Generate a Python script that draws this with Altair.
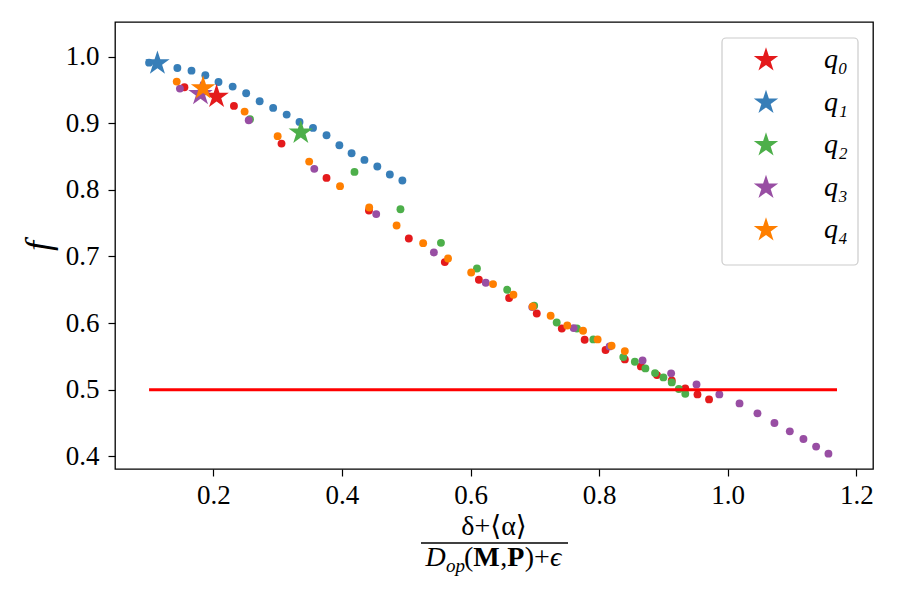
import altair as alt
import pandas as pd

FONT = "Liberation Serif, DejaVu Serif, serif"

# Series names and Set1 colours
series = ["q₀", "q₁", "q₂", "q₃", "q₄"]
colors = ["#e41a1c", "#377eb8", "#4daf4a", "#984ea3", "#ff7f00"]

# Scatter points per series
q0_x = [0.155, 0.232, 0.306, 0.376, 0.442, 0.504, 0.560, 0.613, 0.660, 0.703,
        0.742, 0.7775, 0.810, 0.840, 0.865, 0.890, 0.913, 0.934, 0.953, 0.971]
q0_y = [0.954, 0.926, 0.8695, 0.818, 0.769, 0.727, 0.6916, 0.665, 0.6376, 0.6145,
        0.592, 0.575, 0.5596, 0.5455, 0.535, 0.522, 0.514, 0.502, 0.493, 0.4855]

q1_x = [0.100, 0.144, 0.166, 0.1875, 0.208, 0.230, 0.251, 0.272, 0.293, 0.314,
        0.334, 0.355, 0.376, 0.396, 0.415, 0.435, 0.455, 0.4745, 0.494]
q1_y = [0.991, 0.983, 0.979, 0.972, 0.962, 0.955, 0.945, 0.933, 0.923, 0.913,
        0.902, 0.893, 0.882, 0.867, 0.855, 0.845, 0.835, 0.823, 0.814]

q2_x = [0.257, 0.4195, 0.491, 0.554, 0.610, 0.657, 0.699, 0.734, 0.7655, 0.791,
        0.8376, 0.8556, 0.872, 0.887, 0.900, 0.913, 0.924, 0.934]
q2_y = [0.906, 0.827, 0.771, 0.7205, 0.682, 0.650, 0.626, 0.601, 0.592, 0.5755,
        0.549, 0.542, 0.532, 0.525, 0.5185, 0.511, 0.501, 0.494]

q3_x = [0.148, 0.255, 0.357, 0.4533, 0.543, 0.6237, 0.696, 0.7604, 0.8163, 0.8676,
        0.912, 0.9515, 0.987, 1.0184, 1.0463, 1.0727, 1.0966, 1.1178, 1.1375, 1.1567]
q3_y = [0.952, 0.9046, 0.8316, 0.7636, 0.706, 0.6606, 0.624, 0.5925, 0.565, 0.544,
        0.5246, 0.508, 0.493, 0.4795, 0.4645, 0.450, 0.4375, 0.426, 0.4146, 0.404]

q4_x = [0.143, 0.2486, 0.300, 0.349, 0.397, 0.4424, 0.485, 0.5263, 0.565, 0.601,
        0.635, 0.6667, 0.6967, 0.7246, 0.7505, 0.775, 0.7977, 0.8194, 0.840]
q4_y = [0.9625, 0.9175, 0.8806, 0.8425, 0.8056, 0.7735, 0.7466, 0.720, 0.697, 0.676,
        0.6586, 0.6426, 0.625, 0.611, 0.5965, 0.5886, 0.5755, 0.566, 0.558]

# Highlighted point of each series (star markers)
star_x = [0.205, 0.113, 0.336, 0.180, 0.184]
star_y = [0.940, 0.990, 0.886, 0.944, 0.9526]

# Threshold line
threshold = 0.5
threshold_span = [0.1, 1.17]

x_ticks = [0.2, 0.4, 0.6, 0.8, 1.0, 1.2]
y_ticks = [0.4, 0.5, 0.6, 0.7, 0.8, 0.9, 1.0]

# Five-pointed star path in the [-1, 1] box
STAR = ("M0,-1L0.2245,-0.309L0.9511,-0.309L0.3633,0.118L0.5878,0.809L0,0.382"
        "L-0.5878,0.809L-0.3633,0.118L-0.9511,-0.309L-0.2245,-0.309Z")

rows = []
for name, xs, ys in zip(series, [q0_x, q1_x, q2_x, q3_x, q4_x], [q0_y, q1_y, q2_y, q3_y, q4_y]):
    for xv, yv in zip(xs, ys):
        rows.append({"series": name, "x": xv, "y": yv, "k": len(rows)})
dots = pd.DataFrame(rows)
stars = pd.DataFrame({"series": series, "x": star_x, "y": star_y, "k": list(range(5))})
line_df = pd.DataFrame({"x": [threshold_span[0]], "x2": [threshold_span[1]], "y": [threshold]})

W, H = 758, 447
OX, OY = 115, 22  # plot origin on the page

xscale = alt.Scale(domain=[0.047, 1.226], nice=False, zero=False)
yscale = alt.Scale(domain=[0.381, 1.052], nice=False, zero=False)
cscale = alt.Scale(domain=series, range=colors)

x_enc = alt.X("x:Q", scale=xscale,
              axis=alt.Axis(values=x_ticks, format=".1f", title=None, labelPadding=6))
y_enc = alt.Y("y:Q", scale=yscale,
              axis=alt.Axis(values=y_ticks, format=".1f", title="f", labelPadding=9,
                            titleX=-77, titleY=H / 2, titleAngle=270,
                            titleBaseline="middle", titleAlign="center",
                            titleFontStyle="italic", titleFontSize=36,
                            titleFontWeight="normal"))

dot_layer = alt.Chart(dots).mark_point(filled=True, shape="circle", size=62, opacity=1).encode(
    x=x_enc, y=y_enc,
    color=alt.Color("series:N", scale=cscale, legend=None),
    order=alt.Order("k:Q"),
)

rule_layer = alt.Chart(line_df).mark_rule(color="#ff0000", strokeWidth=3).encode(
    x=alt.X("x:Q", scale=xscale), x2="x2:Q", y=alt.Y("y:Q", scale=yscale)
)

# legend frame
frame = alt.Chart(pd.DataFrame({"a": [0]})).mark_rect(
    fill="white", stroke="#cccccc", strokeWidth=1.2, cornerRadius=4
).encode(
    x=alt.value(722 - OX), x2=alt.value(858 - OX),
    y=alt.value(38 - OY), y2=alt.value(265 - OY),
)

star_layer = alt.Chart(stars).mark_point(filled=True, shape=STAR, size=660, opacity=1).encode(
    x=x_enc, y=y_enc,
    color=alt.Color("series:N", scale=cscale,
                    legend=alt.Legend(title=None, orient="none", legendX=607, legendY=15,
                                      symbolType=STAR, symbolSize=660, symbolStrokeWidth=0,
                                      symbolOpacity=1,
                                      labelFont=FONT, labelFontStyle="italic",
                                      labelFontSize=28, labelColor="black",
                                      rowPadding=14.5, padding=9, symbolOffset=21,
                                      labelOffset=44)),
    order=alt.Order("k:Q"),
)

# x-axis label drawn as a stacked fraction below the axis
label_layers = []
cx = 494 - OX
num = alt.Chart(pd.DataFrame({"t": ["δ+⟨α⟩"]})).mark_text(
    font=FONT, fontSize=28, align="center", baseline="alphabetic", color="black"
).encode(text="t:N", x=alt.value(cx), y=alt.value(535 - OY))
label_layers.append(num)

bar = alt.Chart(pd.DataFrame({"a": [0]})).mark_rule(color="black", strokeWidth=1.4).encode(
    x=alt.value(421 - OX), x2=alt.value(568 - OX), y=alt.value(543 - OY)
)
label_layers.append(bar)

# denominator pieces: text, advance width, baseline shift, size, style, weight
den = [
    ("D", 20.5, 0, 28, "italic", "normal"),
    ("op", 18.0, 6, 19, "italic", "normal"),
    ("(", 9.3, 0, 28, "normal", "normal"),
    ("M", 27.0, 0, 28, "normal", "bold"),
    (",", 7.0, 0, 28, "normal", "normal"),
    ("P", 17.5, 0, 28, "normal", "bold"),
    (")", 9.3, 0, 28, "normal", "normal"),
    ("+", 16.0, 0, 28, "normal", "normal"),
    ("ϵ", 12.5, 0, 28, "italic", "normal"),
]
total = sum(d[1] for d in den)
px = cx - total / 2
for t, w, dy, fs, st, wt in den:
    label_layers.append(
        alt.Chart(pd.DataFrame({"t": [t]})).mark_text(
            font=FONT, fontSize=fs, fontStyle=st, fontWeight=wt,
            align="left", baseline="alphabetic", color="black"
        ).encode(text="t:N", x=alt.value(px), y=alt.value(566 - OY + dy))
    )
    px += w

chart = alt.layer(dot_layer, rule_layer, frame, star_layer, *label_layers).resolve_legend(
    color="independent"
).properties(
    width=W, height=H,
    background="white",
    autosize=alt.AutoSizeParams(type="none"),
    padding={"left": OX, "top": OY, "right": 900 - OX - W, "bottom": 600 - OY - H},
).configure_view(
    stroke="black", strokeWidth=1.3
).configure_axis(
    labelFont=FONT, labelFontSize=27, labelColor="black",
    titleFont=FONT, titleColor="black",
    tickColor="black", tickSize=7, tickWidth=1.2,
    domain=False, grid=False, labelFlush=False,
)

chart.save("out.html", embed_options={"renderer": "svg", "actions": False})
